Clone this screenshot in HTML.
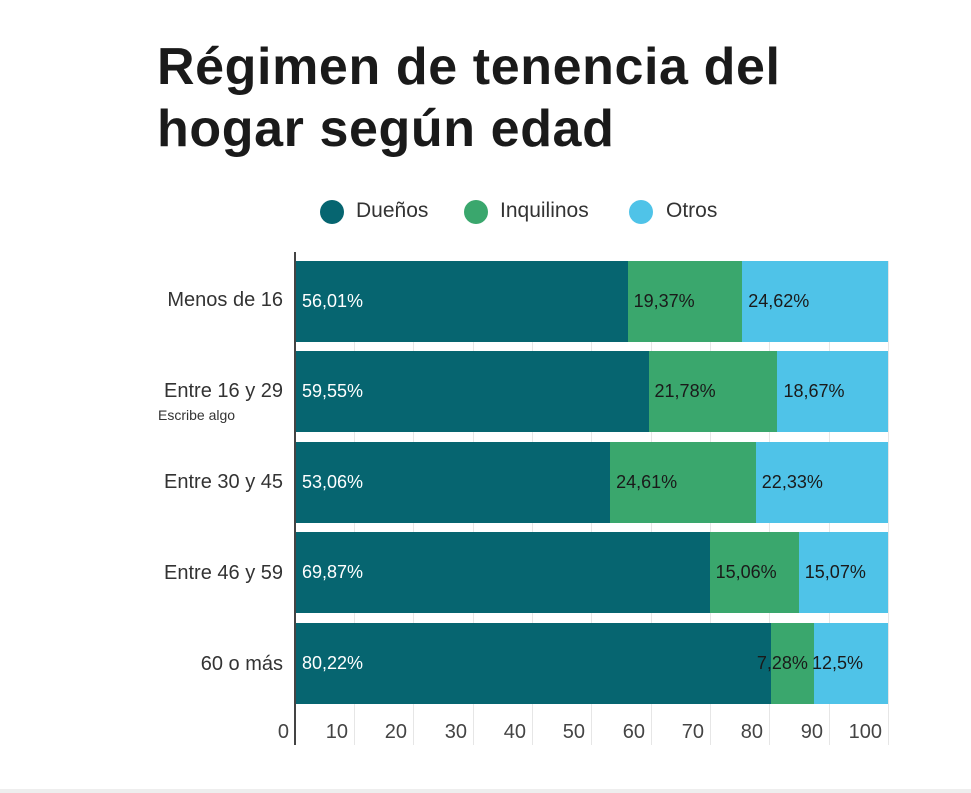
<!DOCTYPE html>
<html><head><meta charset="utf-8"><style>
body{margin:0;width:971px;height:793px;background:#fff;font-family:"Liberation Sans",sans-serif;position:relative;overflow:hidden}
.a{position:absolute;white-space:nowrap}
h1{position:absolute;left:157px;top:36px;margin:0;font-size:52px;line-height:62px;font-weight:bold;color:#1a1a1a;letter-spacing:0.6px}
.dot{position:absolute;width:24px;height:24px;border-radius:50%}
.lg{font-size:21px;color:#333;top:199px}
.rl{right:688px;font-size:20px;color:#333;text-align:right}
.bar{position:absolute;height:81px}
.v{position:absolute;font-size:18px;line-height:81px;top:0}
.t{font-size:20px;color:#444;top:721px;text-align:right;width:40px}
.g{position:absolute;width:1px;background:#e6e6e6;top:261px;height:484px}
</style></head><body>
<h1>Régimen de tenencia del<br>hogar según edad</h1>
<div class="dot" style="left:320px;top:200px;background:#066570"></div><div class="a lg" style="left:356px">Dueños</div>
<div class="dot" style="left:464px;top:200px;background:#3aa76d"></div><div class="a lg" style="left:500px">Inquilinos</div>
<div class="dot" style="left:629px;top:200px;background:#4fc3e8"></div><div class="a lg" style="left:666px">Otros</div>

<div class="g" style="left:354px"></div><div class="g" style="left:413px"></div><div class="g" style="left:473px"></div><div class="g" style="left:532px"></div><div class="g" style="left:591px"></div><div class="g" style="left:651px"></div><div class="g" style="left:710px"></div><div class="g" style="left:769px"></div><div class="g" style="left:829px"></div><div class="g" style="left:888px"></div>

<div id="bars"></div>
<div class="a" style="left:294px;top:252px;width:2px;height:493px;background:#444"></div>

<div class="a rl" style="top:289px">Menos de 16</div>
<div class="a rl" style="top:380px">Entre 16 y 29</div>
<div class="a" style="left:158px;top:407px;font-size:14px;color:#333">Escribe algo</div>
<div class="a rl" style="top:471px">Entre 30 y 45</div>
<div class="a rl" style="top:562px">Entre 46 y 59</div>
<div class="a rl" style="top:653px">60 o más</div>

<div class="a t" style="left:249px">0</div>
<div class="a t" style="left:308px">10</div><div class="a t" style="left:367px">20</div><div class="a t" style="left:427px">30</div><div class="a t" style="left:486px">40</div><div class="a t" style="left:545px">50</div><div class="a t" style="left:605px">60</div><div class="a t" style="left:664px">70</div><div class="a t" style="left:723px">80</div><div class="a t" style="left:783px">90</div><div class="a t" style="left:842px">100</div>
<div class="a" style="left:0;top:789px;width:971px;height:4px;background:#eee"></div>
<script>
var d=[[56.01,19.37,24.62,261],[59.55,21.78,18.67,351],[53.06,24.61,22.33,442],[69.87,15.06,15.07,532],[80.22,7.28,12.5,623]];
var c=["#066570","#3aa76d","#4fc3e8"],h="";
function f(x){return String(x).replace('.',',')+'%';}
d.forEach(function(r){var x=296,s=5.92;
for(var i=0;i<3;i++){var w=r[i]*s;if(i==2)w=888-x;
h+='<div class="bar" style="left:'+x+'px;top:'+r[3]+'px;width:'+w+'px;background:'+c[i]+'"><span class="v" style="left:'+(i==1&&r[i]<10?-14:(i==2&&r[1]<10?-2:6))+'px;color:'+(i==0?'#fff':'#1a1a1a')+'">'+f(r[i])+'</span></div>';x+=w;}});
document.getElementById('bars').innerHTML=h;
</script>
</body></html>
